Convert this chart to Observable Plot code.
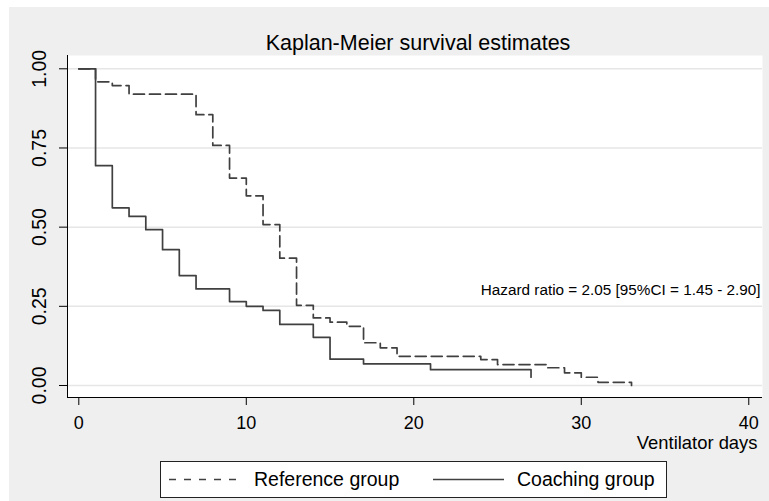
<!DOCTYPE html>
<html><head><meta charset="utf-8">
<script src="https://cdn.jsdelivr.net/npm/d3@7"></script>
<script src="https://cdn.jsdelivr.net/npm/@observablehq/plot@0.6"></script>
<style>
body{margin:0;background:#fff;}
#wrap{position:relative;width:769px;height:501px;overflow:hidden;background:#fff;font-family:"Liberation Sans",Arial,sans-serif}
#bg{position:absolute;left:9px;top:7px;right:0;bottom:0;background:#efefef}
#chart{position:absolute;left:0;top:0}
#legend{position:absolute;left:160px;top:461px;width:505px;height:35px;border:1px solid #222;background:#fff}
</style></head>
<body>
<div id="wrap"><div id="bg"></div><div id="chart"></div><div id="legend"></div></div>
<script>
const title = "Kaplan-Meier survival estimates";
const xLabel = "Ventilator days";
const seriesNames = ["Reference group", "Coaching group"];
const annotation = "Hazard ratio = 2.05 [95%CI = 1.45 - 2.90]";
const annotationAt = {x: 24, y: 0.30};

const refTime = [0,1,2,3,7,8,9,10,11,12,13,14,15,16,17,18,19,24,25,28,29,30,31,33];
const refSurv = [1.0,0.959,0.947,0.920,0.855,0.758,0.655,0.599,0.508,0.402,0.253,0.2135,0.200,0.187,0.135,0.119,0.092,0.082,0.066,0.056,0.040,0.026,0.010,0.0];
const coachTime = [0,1,2,3,4,5,6,7,9,10,11,12,14,15,17,21,27];
const coachSurv = [1.0,0.694,0.561,0.534,0.492,0.429,0.347,0.305,0.265,0.250,0.237,0.193,0.152,0.083,0.068,0.050,0.026];

const xTicks = [0,10,20,30,40];
const yTicks = [0,0.25,0.5,0.75,1];
const xDomain = [-0.675, 40.82];
const yDomain = [-0.0379, 1.042];

const refData = refTime.map((t,i)=>({t, s: refSurv[i]}));
const coachData = coachTime.map((t,i)=>({t, s: coachSurv[i]}));
const lineColor = "#404040";
const font = '"Liberation Sans", Arial, sans-serif';

const chart = Plot.plot({
  width: 769, height: 501,
  marginLeft: 67, marginRight: 7, marginTop: 55, marginBottom: 104,
  style: {background: "transparent", fontFamily: font, color: "#000"},
  x: {domain: xDomain, ticks: xTicks},
  y: {domain: yDomain, ticks: yTicks},
  marks: [
    Plot.frame({fill: "white", stroke: null}),
    Plot.gridY(yTicks, {stroke: "#e6e6e6", strokeOpacity: 1, strokeWidth: 1.5}),
    Plot.line(refData, {x: "t", y: "s", curve: "step-after", stroke: lineColor, strokeWidth: 1.7, strokeDasharray: "11,5"}),
    Plot.line(coachData, {x: "t", y: "s", curve: "step-after", stroke: lineColor, strokeWidth: 1.7}),
    Plot.text([annotation], {x: () => annotationAt.x, y: () => annotationAt.y, text: d => d, textAnchor: "start", lineAnchor: "middle", fontSize: 15.3, fill: "#000"}),
    Plot.ruleX([xDomain[0]], {stroke: "#000", strokeWidth: 1}),
    Plot.ruleY([yDomain[0]], {stroke: "#000", strokeWidth: 1}),
    Plot.axisY(yTicks, {tickFormat: d3.format(".2f"), tickRotate: -90, tickSize: 8, tickPadding: 14, fontSize: 19.5, label: null, stroke: "#000"}),
    Plot.axisX(xTicks, {tickSize: 8, tickPadding: 11, fontSize: 18, label: null, stroke: "#000"}),
    Plot.text([xLabel], {frameAnchor: "bottom-right", text: d => d, textAnchor: "end", lineAnchor: "bottom", dx: -5, dy: 51, fontSize: 18.4, fill: "#000"}),
    Plot.text([title], {frameAnchor: "top", text: d => d, lineAnchor: "bottom", dx: 3, dy: -6, fontSize: 21.5, fill: "#000"})
  ]
});
document.getElementById("chart").appendChild(chart);

// legend
const lg = d3.select("#legend").append("svg").attr("width", 505).attr("height", 35).style("display","block");
lg.append("line").attr("x1", 8).attr("x2", 82).attr("y1", 17.5).attr("y2", 17.5)
  .attr("stroke", lineColor).attr("stroke-width", 1.5).attr("stroke-dasharray", "7,8");
lg.append("text").attr("x", 93).attr("y", 24).attr("font-family", font).attr("font-size", 19.5).text(seriesNames[0]);
lg.append("line").attr("x1", 272).attr("x2", 343).attr("y1", 17.5).attr("y2", 17.5)
  .attr("stroke", lineColor).attr("stroke-width", 1.5);
lg.append("text").attr("x", 356).attr("y", 24).attr("font-family", font).attr("font-size", 19.5).text(seriesNames[1]);
</script>
</body></html>
